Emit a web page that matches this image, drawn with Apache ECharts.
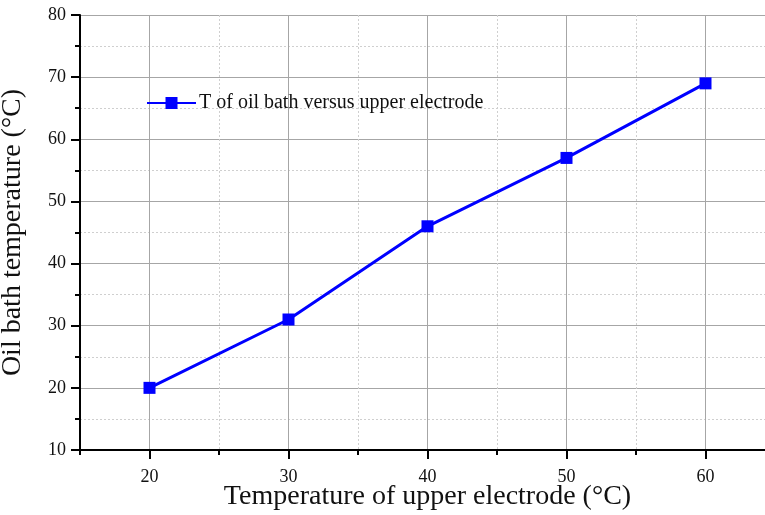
<!DOCTYPE html>
<html>
<head>
<meta charset="utf-8">
<script src="https://cdn.jsdelivr.net/npm/echarts@6/dist/echarts.min.js"></script>
<style>
  html, body { margin: 0; padding: 0; overflow: hidden; background: #fff; }
  #chart { width: 790px; height: 515px; }
</style>
</head>
<body>
<div id="chart"></div>
<script>
// Upper electrode temperature (°C) and measured oil bath temperature (°C)
const electrodeTemps = [20, 30, 40, 50, 60];
const oilBathTemps = [20, 31, 46, 57, 69];
const seriesName = 'T of oil bath versus upper electrode';
const xTitle = 'Temperature of upper electrode (°C)';
const yTitle = 'Oil bath temperature (°C)';

const FONT = 'Liberation Serif';
const TXT = '#111';
const MAJOR = '#a6a6a6';
const MINOR = '#cfcfcf';

const chart = echarts.init(document.getElementById('chart'), null, { renderer: 'canvas' });

chart.setOption({
  animation: false,
  backgroundColor: '#fff',
  grid: { left: 80, right: 15, top: 15, bottom: 65, containLabel: false, outerBoundsMode: 'none' },
  legend: {
    left: 141, top: 88,
    itemWidth: 49, itemHeight: 15, itemGap: 4,
    textStyle: { fontFamily: FONT, fontSize: 20, color: TXT, padding: [0, 0, 0, -2] },
    data: [seriesName]
  },
  xAxis: [
    {
      // half-step ticks and dotted grid
      type: 'value', min: 15, max: 65, interval: 5, position: 'bottom', offset: 0,
      axisLine: { show: true, lineStyle: { color: '#000', width: 2 } },
      axisTick: { show: true, inside: false, length: 5, lineStyle: { color: '#000', width: 2 } },
      axisLabel: { show: false },
      splitLine: { show: true, lineStyle: { color: MINOR, width: 1, type: [2, 2] } },
      name: xTitle, nameLocation: 'middle', nameGap: 33,
      nameTextStyle: { fontFamily: FONT, fontSize: 28, color: TXT, verticalAlign: 'top' }
    },
    {
      // labelled ticks and solid grid
      type: 'value', min: 15, max: 65, minInterval: 10, maxInterval: 10, position: 'bottom', offset: 0,
      axisLine: { show: false },
      axisTick: { show: true, inside: false, length: 9, lineStyle: { color: '#000', width: 2 } },
      axisLabel: { show: true, showMinLabel: false, showMaxLabel: false, margin: 18,
        fontFamily: FONT, fontSize: 18, color: TXT },
      splitLine: { show: true, lineStyle: { color: MAJOR, width: 1, type: 'solid' } }
    }
  ],
  yAxis: {
    type: 'value', min: 10, max: 80, interval: 10,
    axisLine: { show: true, lineStyle: { color: '#000', width: 2 } },
    axisTick: { show: true, inside: false, length: 9, lineStyle: { color: '#000', width: 2 } },
    minorTick: { show: true, splitNumber: 2, length: 5, lineStyle: { color: '#000', width: 2 } },
    axisLabel: { margin: 14, fontFamily: FONT, fontSize: 18, color: TXT },
    splitLine: { show: true, lineStyle: { color: MAJOR, width: 1 } },
    minorSplitLine: { show: true, lineStyle: { color: MINOR, width: 1, type: [2, 2] } },
    name: yTitle, nameLocation: 'middle', nameGap: 53, nameRotate: 90,
    nameTextStyle: { fontFamily: FONT, fontSize: 28, color: TXT }
  },
  series: [{
    name: seriesName,
    type: 'line',
    xAxisIndex: 0,
    data: electrodeTemps.map((t, i) => [t, oilBathTemps[i]]),
    symbol: 'rect', symbolSize: 12,
    itemStyle: { color: '#0000ff' },
    lineStyle: { color: '#0000ff', width: 3 },
    z: 5
  }]
});
</script>
</body>
</html>
